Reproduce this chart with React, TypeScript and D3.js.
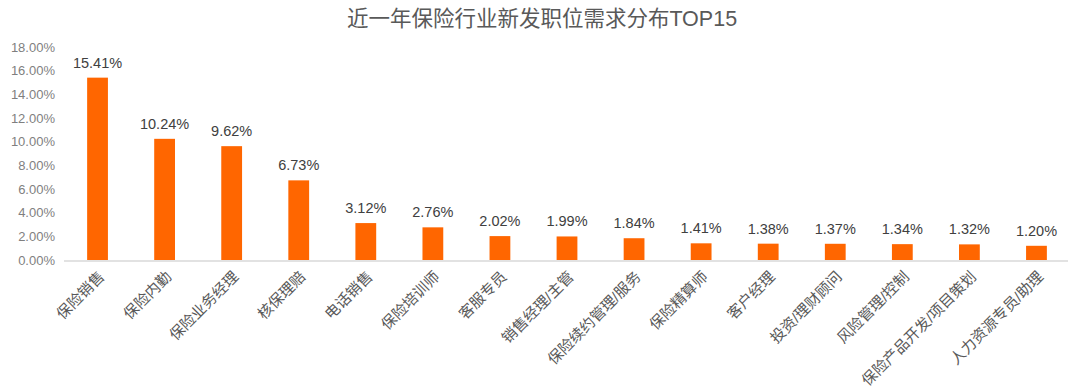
import React from "react";
import * as d3 from "d3";

const categories = ["保险销售","保险内勤","保险业务经理","核保理赔","电话销售","保险培训师","客服专员","销售经理/主管","保险续约管理/服务","保险精算师","客户经理","投资/理财顾问","风险管理/控制","保险产品开发/项目策划","人力资源专员/助理"];
const values = [15.41,10.24,9.62,6.73,3.12,2.76,2.02,1.99,1.84,1.41,1.38,1.37,1.34,1.32,1.20];
const yTicks = [0,2,4,6,8,10,12,14,16,18];
const title = "近一年保险行业新发职位需求分布TOP15";

const W = 1080, H = 388;
const font = "'Liberation Sans', 'Noto Sans CJK SC', sans-serif";

export default function App() {
  const x = d3.scaleBand<string>().domain(categories).range([64, 1070]).paddingInner(0.69).paddingOuter(0.345);
  const y = d3.scaleLinear().domain([0, 18]).range([260, 47]);
  return (
    <svg width={W} height={H} style={{ position: "absolute", left: 0, top: 0 }} fontFamily={font}>
      <rect width={W} height={H} fill="#fff" />
      <text x={542} y={26} textAnchor="middle" fontSize={21.5} fill="#595959">{title}</text>
      {yTicks.map(t => (
        <text key={t} x={55} y={y(t)} dy="0.35em" textAnchor="end" fontSize={13} fill="#7f7f7f">{t.toFixed(2)}%</text>
      ))}
      <line x1={64} x2={1068} y1={261} y2={261} stroke="#d9d9d9" strokeWidth={1.5} />
      {categories.map((c, i) => {
        const bx = x(c)!;
        const cx = bx + x.bandwidth() / 2;
        return (
          <g key={c}>
            <rect x={bx} y={y(values[i])} width={x.bandwidth()} height={y(0) - y(values[i])} fill="#ff6600" />
            <text x={cx} y={y(values[i]) - 10} textAnchor="middle" fontSize={14.5} fill="#404040">{values[i].toFixed(2)}%</text>
            <text transform={`translate(${cx + 4},${274}) rotate(-45)`} textAnchor="end" dy="0.35em" fontSize={15} fill="#595959">{c}</text>
          </g>
        );
      })}
    </svg>
  );
}
